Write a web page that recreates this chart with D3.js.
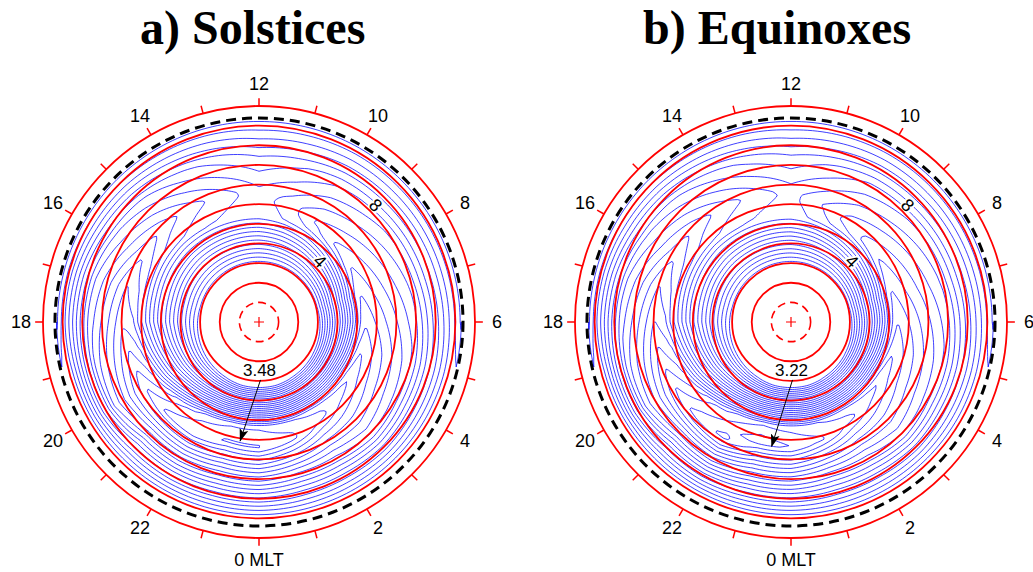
<!DOCTYPE html>
<html><head><meta charset="utf-8">
<script src="https://cdn.jsdelivr.net/npm/d3@7"></script>
<style>
html,body{margin:0;padding:0;background:#fff;}
svg{display:block;}
</style></head>
<body>
<svg id="chart" width="1033" height="572"></svg>
<script>
// ================= DATA =================
const hours = d3.range(24);                         // MLT spokes 0..23
const contourLevels = d3.range(3.5, 14.51, 0.5);    // blue contour levels
const plateauValue = 14.7;                          // value inside the central plateau
const gridEdgeR = 10.3;                             // outer edge of data (ring units)
const rimR = 9.85;                                  // radius of the rim knot
const gridStepR = 0.1;

// Panel a (Solstices): radial profile knots along each MLT spoke
const aInnerR  = [3.30,3.30,3.25,3.20,3.15,3.10,3.05,3.00,3.00,3.00,3.00,3.00,3.00,3.00,3.00,3.00,3.00,3.00,3.05,3.10,3.15,3.20,3.25,3.30];
const aBandR   = [5.35,5.30,5.20,5.15,5.10,5.15,5.20,5.10,5.20,5.30,5.35,5.35,5.30,5.40,5.55,5.80,6.00,6.20,6.40,6.20,6.00,5.70,5.45,5.35];
const aBandV   = [4.10,4.40,4.80,5.20,5.60,6.00,6.40,6.80,7.30,7.80,8.40,8.95,9.40,9.20,8.90,8.40,7.80,7.10,6.45,5.90,5.30,4.70,4.30,4.10];
const aValleyR = [6.30,6.10,5.70,5.40,5.30,5.40,5.40,5.30,5.40,5.50,5.80,6.10,6.40,6.60,6.70,6.80,6.70,6.90,6.90,6.70,6.60,6.50,6.40,6.20];
const aValleyV = [3.490,3.800,4.180,4.670,5.130,5.570,6.130,6.520,6.990,7.430,7.950,8.700,9.250,8.810,8.310,7.720,7.070,6.500,6.110,5.380,4.550,3.900,3.502,3.480];
const aOuterR  = [8.35,8.25,8.05,7.90,7.85,7.90,7.90,7.85,7.90,7.95,8.10,8.25,8.40,8.50,8.55,8.60,8.55,8.65,8.65,8.55,8.50,8.45,8.40,8.30];
const aOuterV  = [8.07,8.18,7.80,7.20,7.53,7.85,8.26,8.55,8.88,9.22,9.59,10.10,10.46,10.17,9.82,9.40,8.95,8.57,8.30,7.76,7.47,8.28,8.09,8.05];
const aRimV    = [11.60,11.60,11.60,11.60,11.60,11.65,11.79,11.86,11.90,11.95,11.98,12.05,12.09,11.99,11.89,11.75,11.66,11.50,11.43,11.60,11.60,11.60,11.60,11.60];
const aEdgeV   = [11.90,11.90,11.90,11.90,11.90,11.90,12.60,12.60,12.60,12.60,12.60,12.60,12.60,12.60,12.60,12.60,12.60,12.60,12.60,11.90,11.90,11.90,11.90,11.90];

// Panel b (Equinoxes)
const bInnerR  = [3.30,3.30,3.25,3.20,3.15,3.10,3.05,3.00,3.00,3.00,3.00,3.00,3.00,3.00,3.00,3.00,3.00,3.00,3.05,3.10,3.15,3.20,3.25,3.30];
const bBandR   = [5.35,5.30,5.20,5.15,5.10,5.15,5.20,5.10,5.20,5.30,5.35,5.35,5.30,5.40,5.55,5.80,6.00,6.20,6.40,6.20,6.00,5.70,5.45,5.35];
const bBandV   = [4.20,4.50,4.90,5.30,5.70,6.10,6.40,6.80,7.20,7.70,8.20,8.80,9.35,9.15,8.85,8.35,7.75,7.10,6.40,5.80,5.20,4.60,4.30,4.10];
const bValleyR = [6.30,6.10,5.70,5.40,5.30,5.40,5.40,5.30,5.40,5.50,5.80,6.10,6.40,6.60,6.70,6.80,6.70,6.90,6.90,6.80,6.70,6.70,6.70,6.20];
const bValleyV = [3.520,3.950,4.300,4.750,5.200,5.600,6.050,6.450,6.850,7.250,7.750,8.500,9.150,8.750,8.250,7.700,7.100,6.500,6.000,5.300,4.500,3.800,3.380,3.220];
const bOuterR  = [8.35,8.25,8.05,7.90,7.85,7.90,7.90,7.85,7.90,7.95,8.10,8.25,8.40,8.50,8.55,8.60,8.55,8.65,8.65,8.60,8.55,8.55,8.55,8.30];
const bOuterV  = [8.09,8.25,7.85,7.25,7.58,7.87,8.21,8.50,8.79,9.10,9.46,9.98,10.39,10.14,9.78,9.39,8.97,8.57,8.23,7.71,7.44,8.27,8.10,7.94];
const bRimV    = [11.60,11.60,11.60,11.60,11.60,11.65,11.78,11.85,11.89,11.93,11.96,12.02,12.08,11.98,11.88,11.75,11.67,11.50,11.41,11.60,11.60,11.60,11.60,11.60];
const bEdgeV   = [11.90,11.90,11.90,11.90,11.90,11.90,12.60,12.60,12.60,12.60,12.60,12.60,12.60,12.60,12.60,12.60,12.60,12.60,12.60,11.90,11.90,11.90,11.90,11.90];

// Annotations
const panelTitles   = ["a) Solstices", "b) Equinoxes"];
const minValueText  = ["3.48", "3.22"];
const minMLT        = [23.40, 23.41];
const minRing       = [6.13, 6.40];
const contourLabelText = ["4", "8"];
const contourLabelMLT  = [9.0, 9.0];
const contourLabelRing = [4.38, 8.40];

// Axes
const hourTicks      = d3.range(24);
const hourLabelHours = d3.range(0, 24, 2);
const hourLabelText  = ["0 MLT","2","4","6","8","10","12","14","16","18","20","22"];
const latRings       = [2,3,4,5,6,7,8,9,10];
const innerDashedRing = 1;
const outerRing      = 11;
const boundaryRing   = 10.39;

// ================= LAYOUT =================
const panelCenterX = [259, 791];
const panelCenterY = 322;
const titleX = [140, 643];
const titleY = 44;
const outerRadiusPx = 216;

const svg = d3.select("#chart");
const defs = svg.append("defs");
defs.append("marker").attr("id","arrowHead")
  .attr("viewBox","0 -5 13 10").attr("refX",12).attr("refY",0)
  .attr("markerWidth",13).attr("markerHeight",10).attr("markerUnits","userSpaceOnUse")
  .attr("orient","auto")
  .append("path").attr("d","M0,-4.5L13,0L0,4.5L3,0Z").attr("fill","#000");

const rScale = d3.scaleLinear().domain([0, outerRing]).range([0, outerRadiusPx]);
const angleScale = d3.scaleLinear().domain([0, 24]).range([Math.PI, -Math.PI]);
function pt(h, r) {
  const a = angleScale(h), R = rScale(r);
  return [R * Math.sin(a), -R * Math.cos(a)];
}

const colHours = d3.range(-2, 27);
const rowR = d3.range(Math.round(gridEdgeR / gridStepR) + 1).map(j => j * gridStepR);

function buildField(p) {
  const prof = hours.map(h => d3.scaleLinear()
    .domain([0, p.innerR[h], p.bandR[h], p.valleyR[h], p.valleyR[h] + gridStepR, p.outerR[h], rimR, gridEdgeR])
    .range([plateauValue, plateauValue, p.bandV[h], p.valleyV[h], p.valleyV[h] + 0.002, p.outerV[h], p.rimV[h], p.edgeV[h]]));
  const nx = colHours.length, ny = rowR.length;
  const vals = new Array(nx * ny);
  for (let j = 0; j < ny; j++)
    for (let i = 0; i < nx; i++)
      vals[j * nx + i] = prof[((colHours[i] % 24) + 24) % 24](rowR[j]);
  return {vals, nx, ny};
}

function contourPaths(p) {
  const {vals, nx, ny} = buildField(p);
  const cs = d3.contours().size([nx, ny]).thresholds(contourLevels)(vals);
  const xHour = d3.scaleLinear().domain([0.5, nx - 0.5]).range([colHours[0], colHours[nx - 1]]);
  const yR = d3.scaleLinear().domain([0.5, ny - 0.5]).range([0, gridEdgeR]).clamp(true);
  const eps = 1e-6;
  const onBorder = q => q[0] <= eps || q[0] >= nx - eps || q[1] <= eps || q[1] >= ny - eps;
  const lines = [];
  for (const c of cs) for (const poly of c.coordinates) for (const ring of poly) {
    let cur = null;
    for (let k = 0; k < ring.length - 1; k++) {
      const A = ring[k], B = ring[k + 1];
      const hA = xHour(A[0]), hB = xHour(B[0]);
      const mid = (hA + hB) / 2;
      const ok = !(onBorder(A) && onBorder(B)) && mid >= 0 && mid < 24;
      if (!ok) { cur = null; continue; }
      const rA = yR(A[1]), rB = yR(B[1]);
      if (!cur) { cur = [pt(hA, rA)]; lines.push(cur); }
      const n = Math.max(1, Math.ceil(Math.abs(hB - hA) / 0.1));
      for (let s = 1; s <= n; s++) {
        const t = s / n;
        cur.push(pt(hA + (hB - hA) * t, rA + (rB - rA) * t));
      }
    }
  }
  return lines;
}

const panels = [
  {innerR:aInnerR, bandR:aBandR, bandV:aBandV, valleyR:aValleyR, valleyV:aValleyV, outerR:aOuterR, outerV:aOuterV, rimV:aRimV, edgeV:aEdgeV},
  {innerR:bInnerR, bandR:bBandR, bandV:bBandV, valleyR:bValleyR, valleyV:bValleyV, outerR:bOuterR, outerV:bOuterV, rimV:bRimV, edgeV:bEdgeV}
];

const lineGen = d3.line();
const RED = "#ff0000", BLUE = "#0000ff";
const sansFont = "'Liberation Sans', Arial, Helvetica, sans-serif";

panels.forEach((p, idx) => {
  svg.append("text").attr("x", titleX[idx]).attr("y", titleY)
    .attr("font-family", "'Liberation Serif', 'Times New Roman', serif")
    .attr("font-weight", "bold").attr("font-size", 48).attr("fill", "#000")
    .text(panelTitles[idx]);

  const g = svg.append("g").attr("transform", `translate(${panelCenterX[idx]},${panelCenterY})`);

  const lines = contourPaths(p);
  g.append("g").selectAll("path").data(lines).join("path")
    .attr("d", d => lineGen(d)).attr("fill", "none")
    .attr("stroke", BLUE).attr("stroke-width", 0.75).attr("stroke-linejoin", "round");

  contourLabelText.forEach((t, i) => {
    const q = pt(contourLabelMLT[i], contourLabelRing[i]);
    g.append("text").attr("transform", `translate(${q[0]},${q[1]}) rotate(45)`)
      .attr("text-anchor", "middle").attr("dominant-baseline", "central")
      .attr("font-family", sansFont).attr("font-size", 18)
      .attr("fill", "#000").attr("stroke", "#fff").attr("stroke-width", 4)
      .attr("paint-order", "stroke").text(t);
  });

  g.append("g").selectAll("circle").data(latRings).join("circle")
    .attr("r", d => rScale(d)).attr("fill", "none").attr("stroke", RED).attr("stroke-width", 1.8);
  g.append("circle").attr("r", rScale(innerDashedRing)).attr("fill", "none")
    .attr("stroke", RED).attr("stroke-width", 1.6).attr("stroke-dasharray", "8,5");

  g.append("circle").attr("r", rScale(boundaryRing)).attr("fill", "none")
    .attr("stroke", "#000").attr("stroke-width", 3).attr("stroke-dasharray", "10,6");

  g.append("circle").attr("r", rScale(outerRing)).attr("fill", "none")
    .attr("stroke", RED).attr("stroke-width", 1.8);
  g.append("g").selectAll("line").data(hourTicks).join("line")
    .attr("x1", h => pt(h, outerRing)[0]).attr("y1", h => pt(h, outerRing)[1])
    .attr("x2", h => pt(h, outerRing + 0.4)[0]).attr("y2", h => pt(h, outerRing + 0.4)[1])
    .attr("stroke", RED).attr("stroke-width", 1.5);
  g.append("g").selectAll("text").data(hourLabelHours).join("text")
    .attr("x", h => pt(h, 12.12)[0]).attr("y", h => pt(h, 12.12)[1])
    .attr("text-anchor", "middle").attr("dominant-baseline", "central")
    .attr("font-family", sansFont).attr("font-size", 18).attr("fill", "#000")
    .text((h, i) => hourLabelText[i]);

  g.append("path").attr("d", "M-5,0H5M0,-5V5").attr("stroke", RED).attr("stroke-width", 1.2);

  const lab = pt(0, 2.49);
  g.append("text").attr("x", lab[0] + 0.5).attr("y", lab[1])
    .attr("text-anchor", "middle").attr("dominant-baseline", "central")
    .attr("font-family", sansFont).attr("font-size", 17).attr("fill", "#000")
    .text(minValueText[idx]);
  const a0 = pt(0, 2.95), a1 = pt(minMLT[idx], minRing[idx]);
  g.append("line").attr("x1", a0[0] + 1.5).attr("y1", a0[1]).attr("x2", a1[0]).attr("y2", a1[1])
    .attr("stroke", "#000").attr("stroke-width", 1).attr("marker-end", "url(#arrowHead)");
});
</script>
</body></html>
